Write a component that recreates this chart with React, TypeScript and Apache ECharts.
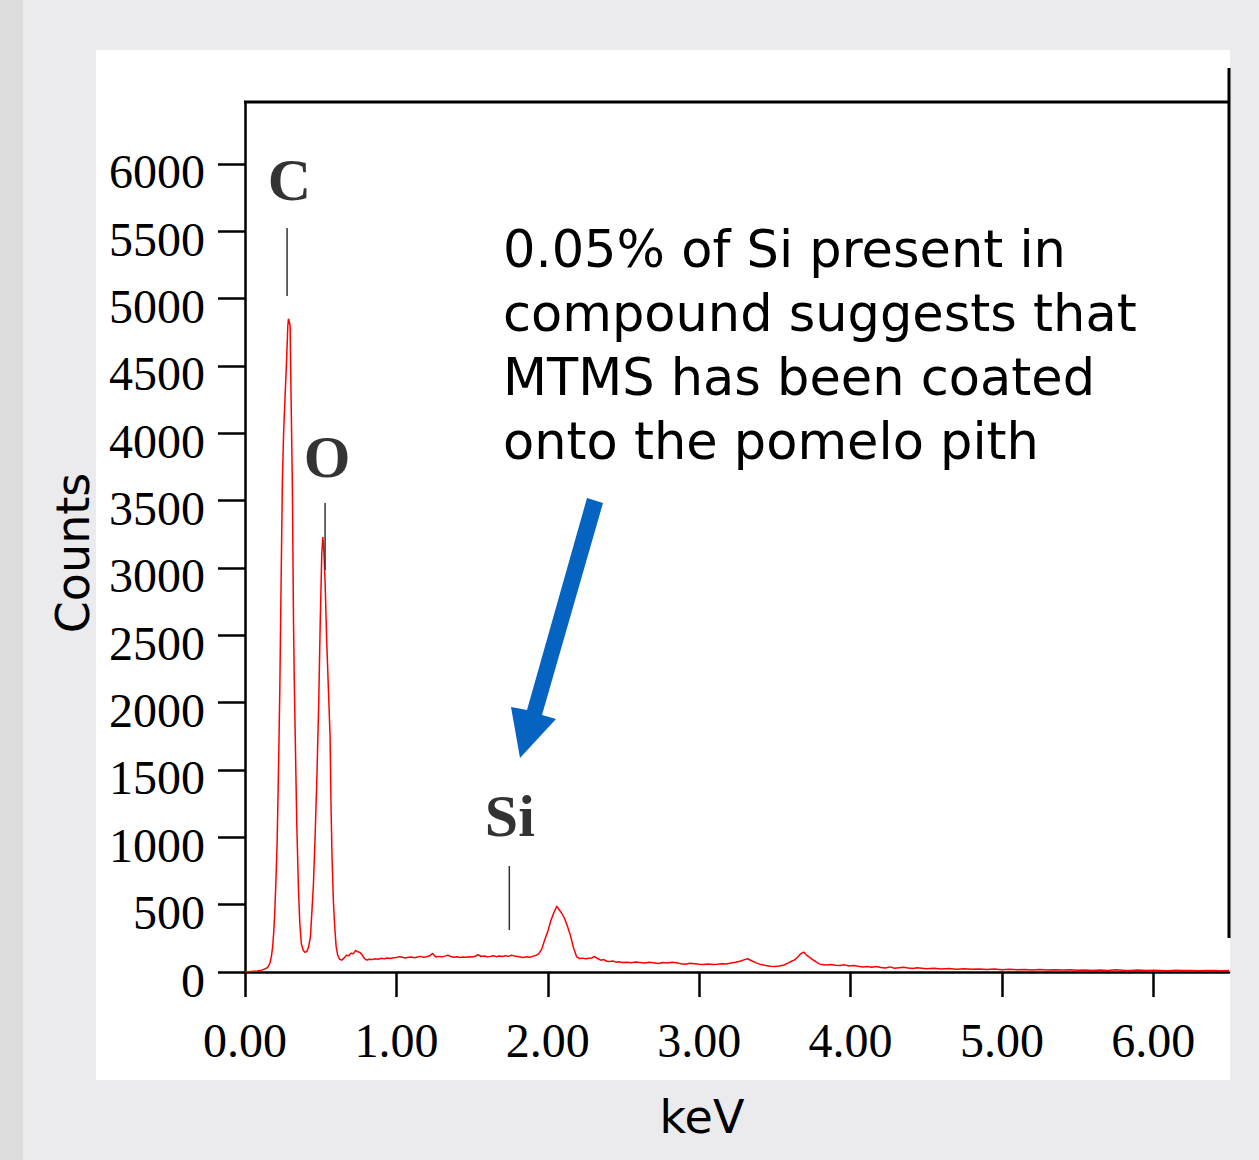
import React, { useEffect, useRef } from "react";
import * as echarts from "echarts";

// Spectrum (keV, counts)
const keV = [
  0.0, 0.04, 0.08, 0.11, 0.13, 0.15, 0.165, 0.175, 0.183, 0.19, 0.197, 0.205, 0.212, 0.218, 0.225, 0.23,
  0.238, 0.247, 0.255, 0.262, 0.275, 0.283, 0.287, 0.292, 0.298, 0.304, 0.313, 0.32, 0.325, 0.331, 0.342,
  0.353, 0.362, 0.372, 0.385, 0.397, 0.41, 0.42, 0.432, 0.442, 0.452, 0.463, 0.475, 0.487, 0.497, 0.507,
  0.514, 0.52, 0.529, 0.54, 0.551, 0.562, 0.568, 0.575, 0.584, 0.593, 0.602, 0.612, 0.625, 0.64, 0.655,
  0.67, 0.685, 0.7, 0.715, 0.73, 0.745, 0.76, 0.775, 0.79, 0.805, 0.82, 0.84, 0.86, 0.88, 0.9, 0.92, 0.94,
  0.96, 0.98, 1.0, 1.02, 1.04, 1.06, 1.08, 1.1, 1.12, 1.14, 1.16, 1.18, 1.2, 1.22, 1.24, 1.26, 1.28, 1.3,
  1.32, 1.34, 1.36, 1.38, 1.4, 1.42, 1.44, 1.46, 1.48, 1.5, 1.52, 1.54, 1.56, 1.58, 1.6, 1.62, 1.64, 1.66,
  1.68, 1.7, 1.72, 1.74, 1.76, 1.78, 1.8, 1.82, 1.84, 1.86, 1.88, 1.9, 1.92, 1.94, 1.96, 1.98, 2.0, 2.02,
  2.04, 2.06, 2.07, 2.09, 2.11, 2.13, 2.15, 2.17, 2.19, 2.21, 2.23, 2.25, 2.27, 2.29, 2.31, 2.33, 2.35,
  2.37, 2.39, 2.41, 2.43, 2.45, 2.47, 2.49, 2.52, 2.55, 2.58, 2.61, 2.64, 2.67, 2.7, 2.73, 2.76, 2.79,
  2.82, 2.85, 2.88, 2.91, 2.94, 2.97, 3.0, 3.03, 3.06, 3.09, 3.12, 3.15, 3.18, 3.21, 3.24, 3.27, 3.3,
  3.32, 3.35, 3.38, 3.41, 3.44, 3.47, 3.5, 3.53, 3.56, 3.59, 3.61, 3.63, 3.65, 3.67, 3.69, 3.71, 3.73,
  3.75, 3.77, 3.79, 3.81, 3.84, 3.87, 3.9, 3.93, 3.96, 3.99, 4.02, 4.05, 4.08, 4.11, 4.14, 4.17, 4.2,
  4.23, 4.26, 4.29, 4.32, 4.35, 4.38, 4.41, 4.44, 4.47, 4.5, 4.55, 4.6, 4.65, 4.7, 4.75, 4.8, 4.85, 4.9,
  4.95, 5.0, 5.05, 5.1, 5.15, 5.2, 5.25, 5.3, 5.35, 5.4, 5.45, 5.5, 5.55, 5.6, 5.65, 5.7, 5.75, 5.8,
  5.85, 5.9, 5.95, 6.0, 6.05, 6.1, 6.15, 6.2, 6.25, 6.3, 6.35, 6.4, 6.45, 6.5,
];
const counts = [
  0, 4, 8, 14, 22, 35, 67, 120, 190, 300, 450, 700, 950, 1300, 1750, 2100,
  2850, 3650, 4000, 4200, 4550, 4800, 4850, 4830, 4800, 4300, 3600, 2650, 2200, 1800, 1100,
  620, 360, 210, 160, 145, 155, 185, 260, 450, 650, 1000, 1450, 2000, 2600, 3100,
  3230, 3150, 2900, 2450, 2100, 1750, 1250, 850, 520, 330, 190, 125, 95, 88, 105,
  125, 120, 140, 135, 160, 150, 145, 125, 100, 88, 95, 92, 98, 95, 102, 98, 104,
  100, 106, 108, 114, 109, 104, 110, 112, 106, 111, 116, 110, 113, 120, 138, 112, 116, 113,
  118, 124, 115, 110, 113, 108, 112, 109, 114, 111, 117, 128, 115, 119, 113, 116, 121, 114,
  118, 115, 120, 116, 124, 118, 115, 112, 108, 113, 110, 116, 122, 135, 170, 240, 300, 380,
  440, 490, 470, 440, 400, 340, 270, 180, 115, 100, 103, 98, 102, 104, 115, 100, 88,
  92, 80, 78, 82, 73, 76, 70, 72, 68, 74, 70, 66, 72, 68, 63, 70, 66,
  72, 68, 62, 58, 65, 62, 57, 55, 60, 56, 58, 62, 60, 66, 72, 80, 92,
  98, 82, 66, 55, 48, 42, 40, 45, 52, 68, 80, 90, 110, 135, 148, 125, 108,
  92, 78, 62, 55, 52, 56, 50, 48, 53, 45, 48, 42, 38, 40, 36, 40, 34,
  30, 38, 28, 32, 36, 30, 26, 32, 28, 24, 28, 22, 26, 21, 24, 20, 23, 19,
  22, 17, 20, 16, 19, 15, 18, 14, 17, 14, 16, 13, 15, 12, 14, 12, 16, 13,
  12, 14, 11, 13, 12, 10, 13, 11, 12, 10, 12, 11, 10, 12,
];

// Axis ticks
const yTicks = [0, 500, 1000, 1500, 2000, 2500, 3000, 3500, 4000, 4500, 5000, 5500, 6000];
const xTicks = [0, 1, 2, 3, 4, 5, 6];

// Peak labels (element, keV of marker, marker counts from/to, label position)
const peakNames = ["C", "O", "Si"];
const peakMarkKeV = [0.278, 0.529, 1.746];
const peakMarkFrom = [5020, 2985, 312];
const peakMarkTo = [5525, 3483, 787];
const peakLabelKeV = [0.294, 0.542, 1.749];
const peakLabelCounts = [5874, 3824, 1151];

const noteLines = [
  "0.05% of Si present in",
  "compound suggests that",
  "MTMS has been coated",
  "onto the pomelo pith",
];

export default function App() {
  const ref = useRef<HTMLDivElement>(null);
  useEffect(() => {
    if (!ref.current) return;
    const chart = echarts.init(ref.current, null, { renderer: "svg" });
    const spectrum = keV.map((k, i) => [k, counts[i]]);
    const markerSeries = peakNames.map((n, i) => ({
      type: "line",
      name: n + " marker",
      data: [
        [peakMarkKeV[i], peakMarkFrom[i]],
        [peakMarkKeV[i], peakMarkTo[i]],
      ],
      showSymbol: false,
      lineStyle: { color: "#333", width: 1.5 },
      silent: true,
      z: 3,
    }));
    const sans = "'DejaVu Sans', sans-serif";
    const serif = "'Liberation Serif', serif";
    chart.setOption({
      animation: false,
      backgroundColor: "transparent",
      grid: { left: 245, right: 30, top: 102, bottom: 188, containLabel: false },
      xAxis: {
        type: "value",
        min: 0,
        max: 6.5,
        axisLine: { show: true, onZero: false, lineStyle: { color: "#000", width: 2.5 } },
        axisTick: { show: true, inside: false, length: 25, customValues: xTicks, lineStyle: { color: "#000", width: 2.5 } },
        axisLabel: {
          customValues: xTicks,
          formatter: (v: number) => v.toFixed(2),
          fontFamily: serif,
          fontSize: 48,
          color: "#000",
          margin: 44,
        },
        splitLine: { show: false },
      },
      yAxis: {
        type: "value",
        min: 0,
        max: 6460,
        axisLine: { show: true, lineStyle: { color: "#000", width: 2.5 } },
        axisTick: { show: true, inside: false, length: 27, customValues: yTicks, lineStyle: { color: "#000", width: 2.5 } },
        axisLabel: {
          customValues: yTicks,
          formatter: (v: number) => "{a|" + String(v) + "}",
          rich: {
            a: {
              fontFamily: serif,
              fontSize: 48,
              color: "#000",
              padding: [16, 0, 0, 0],
            },
          },
          fontFamily: serif,
          fontSize: 48,
          color: "#000",
          margin: 40,
        },
        splitLine: { show: false },
      },
      series: [
        {
          type: "line",
          name: "Spectrum",
          data: spectrum,
          showSymbol: false,
          lineStyle: { color: "#ff0000", width: 1.5 },
          z: 2,
        },
        ...markerSeries,
        {
          type: "scatter",
          name: "Peak labels",
          symbolSize: 1,
          itemStyle: { color: "rgba(0,0,0,0)" },
          data: peakNames.map((n, i) => ({ name: n, value: [peakLabelKeV[i], peakLabelCounts[i]] })),
          label: {
            show: true,
            position: "top",
            distance: -30,
            formatter: "{b}",
            fontFamily: serif,
            fontWeight: "bold",
            fontSize: 60,
            color: "#000000",
          },
          z: 4,
        },
      ],
      graphic: [
        { type: "line", shape: { x1: 244, y1: 102, x2: 1230, y2: 102 }, style: { stroke: "#000", lineWidth: 3 } },
        { type: "line", shape: { x1: 1229, y1: 68, x2: 1229, y2: 938 }, style: { stroke: "#000", lineWidth: 3 } },
        {
          type: "polygon",
          shape: {
            points: [
              [587, 498],
              [603, 503],
              [542, 715],
              [556, 719],
              [520, 758],
              [511, 707],
              [527, 710],
            ],
          },
          style: { fill: "#0563c1" },
        },
        {
          type: "text",
          x: 503,
          y: 217,
          style: {
            text: noteLines.join("\n"),
            font: "51px " + sans,
            fill: "#000",
            lineHeight: 64,
            textAlign: "left",
            textVerticalAlign: "top",
          },
        },
        {
          type: "text",
          x: 73,
          y: 553,
          rotation: Math.PI / 2,
          style: {
            text: "Counts",
            font: "46px " + sans,
            fill: "#000",
            textAlign: "center",
            textVerticalAlign: "middle",
          },
        },
        {
          type: "text",
          x: 702,
          y: 1117,
          style: {
            text: "keV",
            font: "46px " + sans,
            fill: "#000",
            textAlign: "center",
            textVerticalAlign: "middle",
          },
        },
      ],
    });
    return () => chart.dispose();
  }, []);

  return (
    <div style={{ position: "fixed", left: 0, top: 0, width: 1259, height: 1160, background: "#ebebed", overflow: "hidden" }}>
      <div style={{ position: "absolute", left: 0, top: 0, width: 23, height: 1160, background: "#dcdcdc" }} />
      <div style={{ position: "absolute", left: 96, top: 50, width: 1134, height: 1030, background: "#ffffff" }} />
      <div ref={ref} style={{ position: "absolute", left: 0, top: 0, width: 1259, height: 1160 }} />
    </div>
  );
}
